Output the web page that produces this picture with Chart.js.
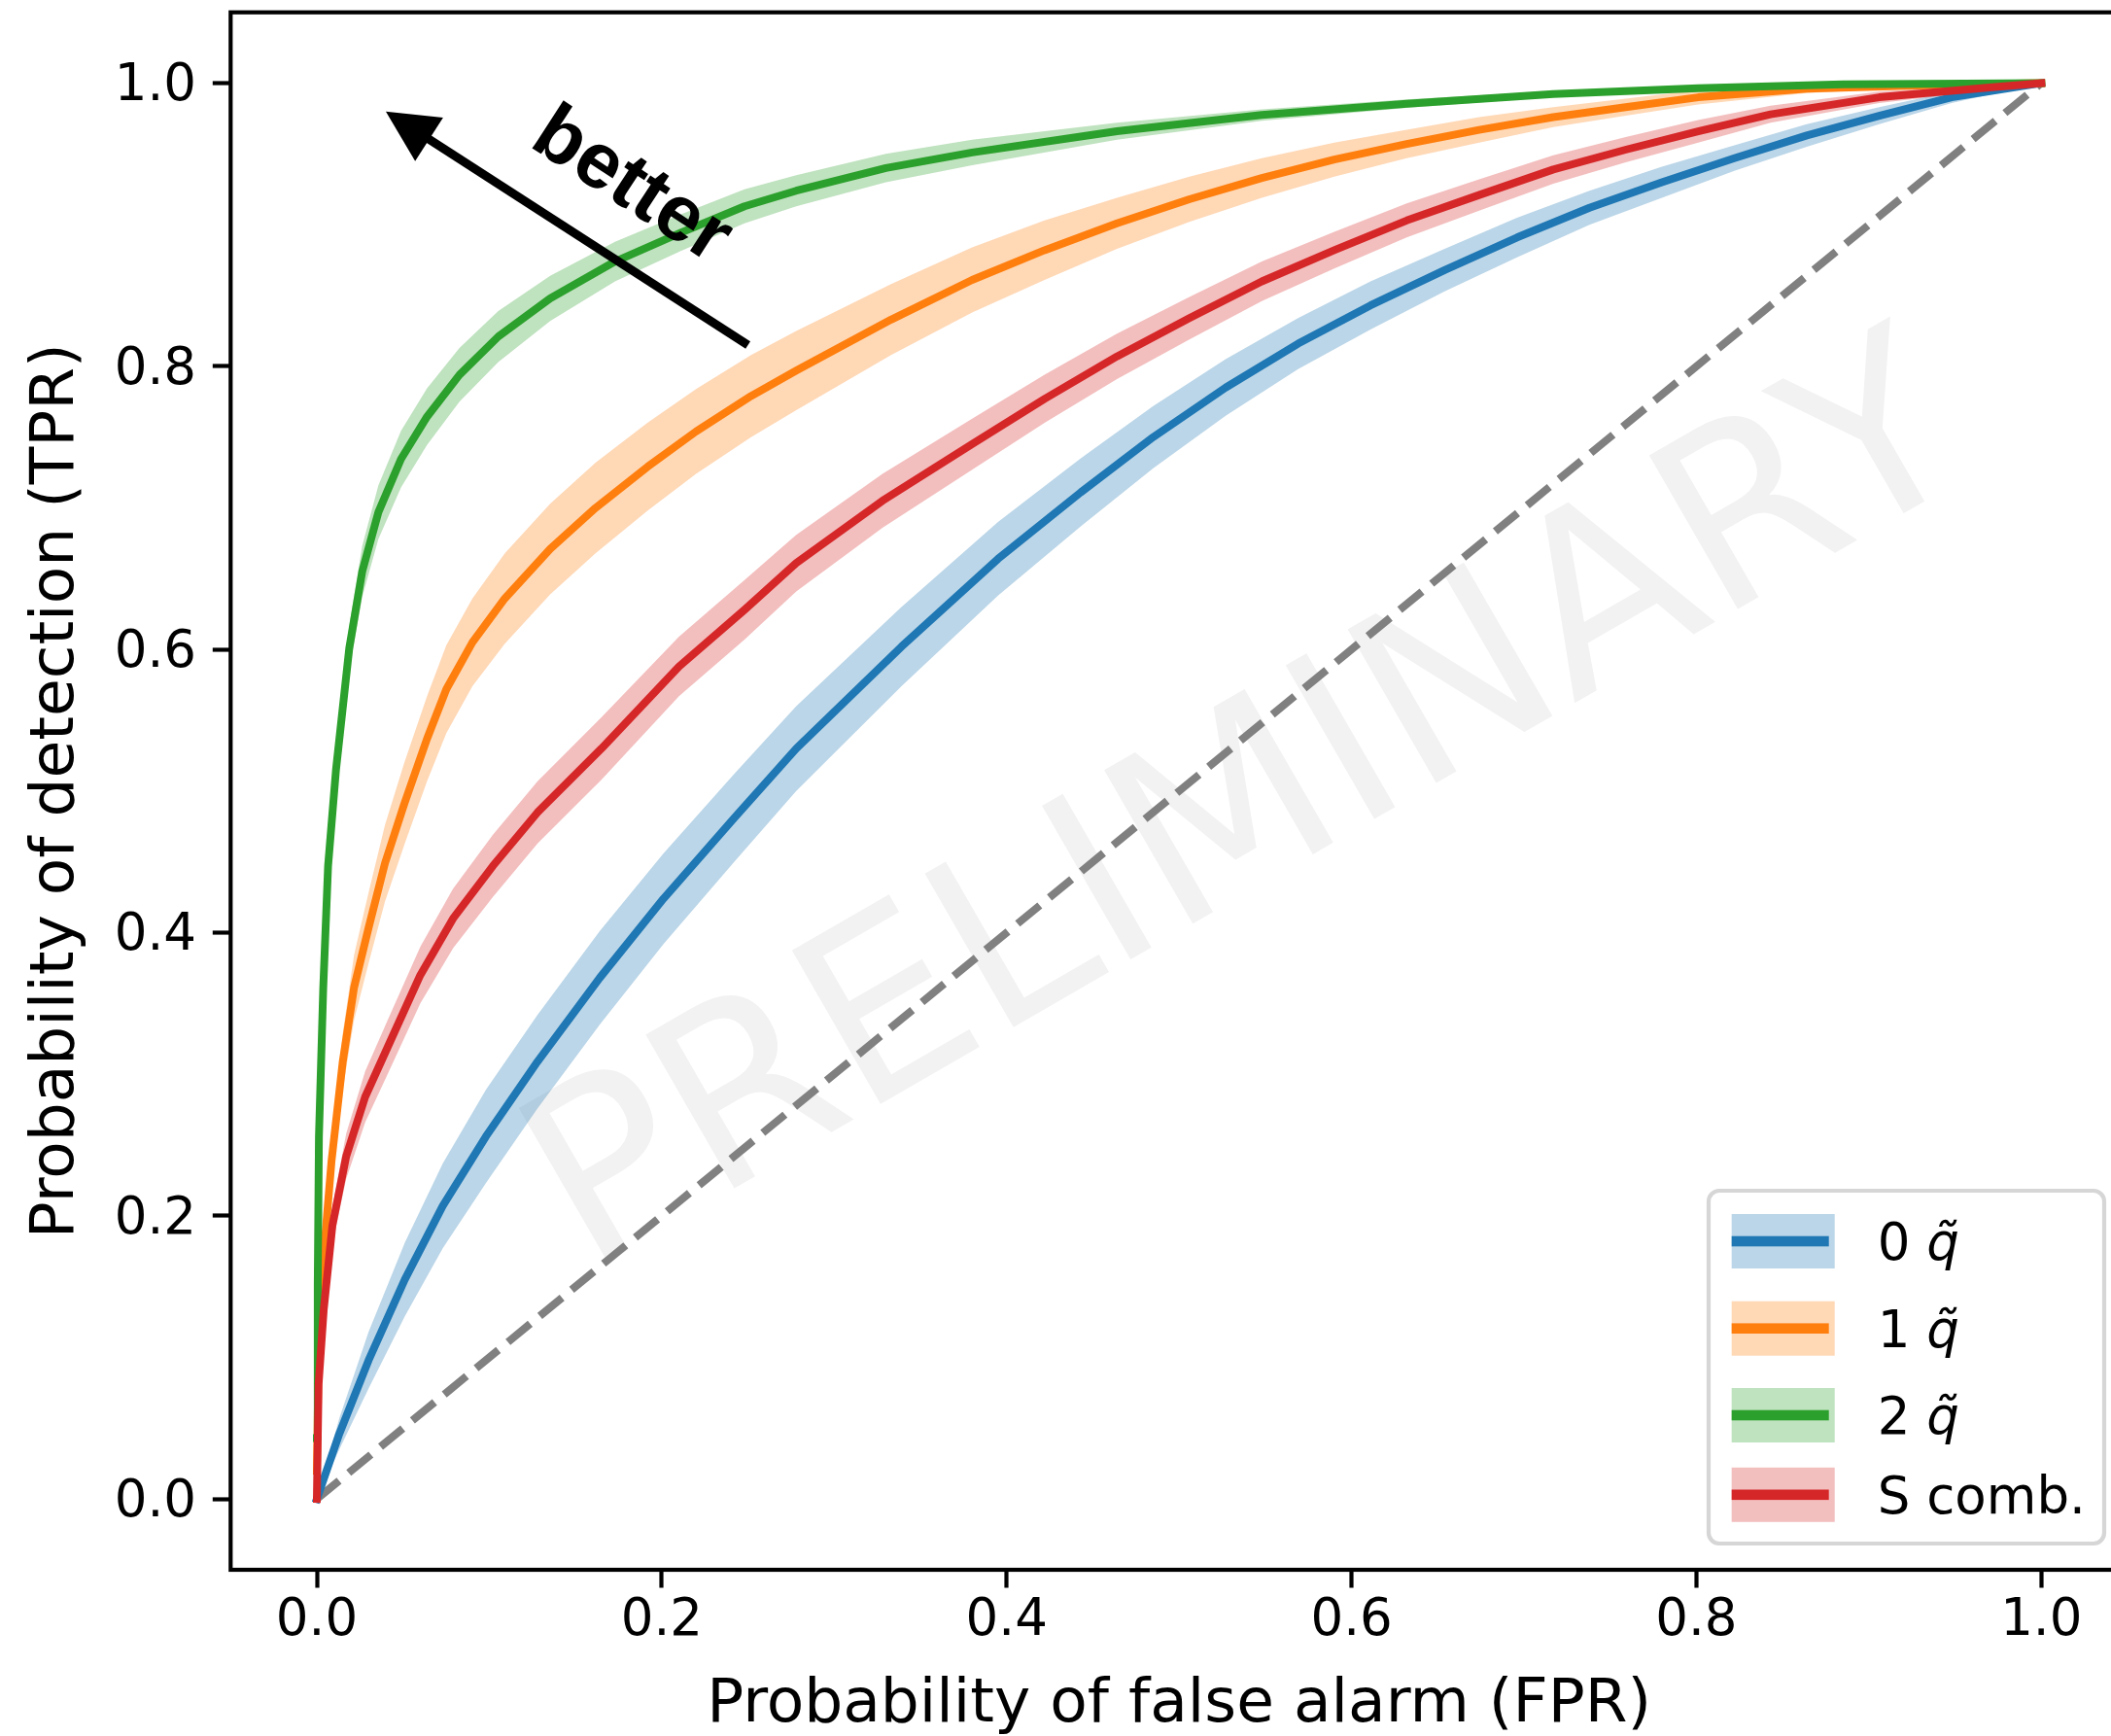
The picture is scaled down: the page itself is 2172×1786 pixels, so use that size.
<!DOCTYPE html>
<html lang="en">
<head>
  <meta charset="UTF-8">
  <title>ROC curves</title>
  <script src="https://cdn.jsdelivr.net/npm/chart.js"></script>
  <style>
    html, body { margin: 0; padding: 0; background: #fff; overflow: hidden; }
    #wrap { width: 2200px; height: 1786px; }
  </style>
</head>
<body>
  <div id="wrap"><canvas id="roc" width="2200" height="1786"></canvas></div>

  <script>
    // ROC points (false alarm rate, detection rate) and the spread around them
    const fpr0 = [0, 0.013, 0.030, 0.051, 0.073, 0.098, 0.128, 0.164, 0.201, 0.242, 0.278, 0.339, 0.395, 0.443, 0.485, 0.527, 0.569, 0.611, 0.654, 0.696, 0.738, 0.780, 0.822, 0.864, 0.906, 0.948, 1.0];
    const tpr0 = [0, 0.046, 0.098, 0.155, 0.207, 0.256, 0.309, 0.368, 0.424, 0.481, 0.530, 0.602, 0.664, 0.711, 0.750, 0.785, 0.816, 0.843, 0.868, 0.891, 0.912, 0.930, 0.947, 0.963, 0.977, 0.990, 1.0];
    const std0 = [0, 0.011, 0.020, 0.026, 0.030, 0.033, 0.033, 0.033, 0.032, 0.031, 0.030, 0.028, 0.026, 0.024, 0.022, 0.020, 0.018, 0.017, 0.015, 0.014, 0.012, 0.011, 0.009, 0.008, 0.006, 0.004, 0];

    const fpr1 = [0, 0.001, 0.0037, 0.0085, 0.015, 0.0216, 0.030, 0.0395, 0.0507, 0.0639, 0.0751, 0.0902, 0.109, 0.1353, 0.1616, 0.1917, 0.2199, 0.2518, 0.278, 0.333, 0.380, 0.422, 0.464, 0.506, 0.548, 0.590, 0.632, 0.674, 0.717, 0.759, 0.801, 0.864, 0.948, 1.0];
    const tpr1 = [0.02, 0.10, 0.1685, 0.2386, 0.3088, 0.3614, 0.4034, 0.449, 0.491, 0.537, 0.572, 0.605, 0.636, 0.671, 0.700, 0.729, 0.754, 0.779, 0.797, 0.833, 0.861, 0.882, 0.901, 0.918, 0.933, 0.946, 0.957, 0.967, 0.976, 0.983, 0.990, 0.996, 0.999, 1.0];
    const std1 = [0, 0.007, 0.012, 0.016, 0.020, 0.023, 0.025, 0.027, 0.029, 0.030, 0.031, 0.031, 0.032, 0.032, 0.032, 0.031, 0.030, 0.029, 0.028, 0.025, 0.023, 0.021, 0.018, 0.016, 0.014, 0.012, 0.010, 0.009, 0.007, 0.006, 0.005, 0.003, 0.001, 0];

    const fpr2 = [0, 0.0005, 0.0012, 0.0037, 0.0065, 0.0111, 0.0188, 0.0263, 0.0357, 0.0488, 0.0639, 0.0827, 0.1052, 0.1353, 0.1729, 0.2104, 0.248, 0.278, 0.330, 0.380, 0.464, 0.548, 0.632, 0.717, 0.801, 0.885, 1.0];
    const tpr2 = [0.043, 0.151, 0.256, 0.361, 0.447, 0.515, 0.601, 0.655, 0.697, 0.7345, 0.7644, 0.794, 0.821, 0.848, 0.874, 0.894, 0.913, 0.924, 0.940, 0.951, 0.966, 0.9775, 0.9855, 0.9923, 0.9964, 0.9992, 1.0];
    const std2 = [0, 0.003, 0.005, 0.008, 0.010, 0.013, 0.016, 0.018, 0.019, 0.020, 0.020, 0.019, 0.018, 0.016, 0.014, 0.013, 0.012, 0.011, 0.010, 0.009, 0.006, 0.004, 0.003, 0.002, 0.001, 0.0005, 0];

    const fpr3 = [0, 0.001, 0.004, 0.009, 0.017, 0.028, 0.041, 0.060, 0.079, 0.102, 0.128, 0.165, 0.210, 0.248, 0.278, 0.328, 0.380, 0.422, 0.464, 0.506, 0.548, 0.590, 0.632, 0.674, 0.717, 0.759, 0.801, 0.843, 0.906, 0.970, 1.0];
    const tpr3 = [0, 0.081, 0.134, 0.193, 0.242, 0.284, 0.319, 0.370, 0.410, 0.447, 0.485, 0.530, 0.588, 0.628, 0.661, 0.705, 0.745, 0.777, 0.807, 0.834, 0.860, 0.882, 0.903, 0.921, 0.939, 0.953, 0.966, 0.978, 0.990, 0.997, 1.0];
    const std3 = [0, 0.005, 0.010, 0.013, 0.016, 0.018, 0.019, 0.020, 0.021, 0.022, 0.022, 0.022, 0.021, 0.021, 0.020, 0.019, 0.018, 0.017, 0.016, 0.015, 0.014, 0.013, 0.012, 0.011, 0.010, 0.009, 0.008, 0.006, 0.004, 0.002, 0];

    const seriesLabels = ['0 q\u0303', '1 q\u0303', '2 q\u0303', 'S comb.'];
    const seriesColors = ['#1f77b4', '#ff7f0e', '#2ca02c', '#d62728'];

    // chance diagonal
    const chanceX = [0, 1];
    const chanceY = [0, 1];

    const xTicks = [0.0, 0.2, 0.4, 0.6, 0.8, 1.0];
    const yTicks = [0.0, 0.2, 0.4, 0.6, 0.8, 1.0];

    const xTitle = 'Probability of false alarm (FPR)';
    const yTitle = 'Probability of detection (TPR)';
    const watermarkText = 'PRELIMINARY';
    const arrowText = 'better';
    const arrowFrom = [0.25, 0.815];
    const arrowTo = [0.04, 0.98];

    const series = [
      { label: seriesLabels[0], color: seriesColors[0], fpr: fpr0, tpr: tpr0, std: std0 },
      { label: seriesLabels[1], color: seriesColors[1], fpr: fpr1, tpr: tpr1, std: std1 },
      { label: seriesLabels[2], color: seriesColors[2], fpr: fpr2, tpr: tpr2, std: std2 },
      { label: seriesLabels[3], color: seriesColors[3], fpr: fpr3, tpr: tpr3, std: std3 }
    ];

    function rgba(hex, a) {
      const n = parseInt(hex.slice(1), 16);
      return `rgba(${(n >> 16) & 255}, ${(n >> 8) & 255}, ${n & 255}, ${a})`;
    }

    const datasets = [];

    // shaded bands: lower edge, then upper edge filled down to it
    series.forEach((s, i) => {
      datasets.push({
        isBand: true,
        data: s.fpr.map((x, k) => ({ x: x, y: s.tpr[k] - s.std[k] })),
        borderColor: 'rgba(0,0,0,0)', borderWidth: 0, pointRadius: 0,
        fill: false, order: 20 - 2 * i
      });
      datasets.push({
        isBand: true,
        data: s.fpr.map((x, k) => ({ x: x, y: s.tpr[k] + s.std[k] })),
        borderColor: 'rgba(0,0,0,0)', borderWidth: 0, pointRadius: 0,
        fill: '-1', backgroundColor: rgba(s.color, 0.3), order: 19 - 2 * i
      });
    });

    datasets.push({
      data: chanceX.map((x, k) => ({ x: x, y: chanceY[k] })),
      borderColor: '#808080', borderWidth: 8, borderDash: [29.6, 12.8],
      borderCapStyle: 'butt', pointRadius: 0, fill: false, order: 10
    });

    // main curves, last one ends up on top
    series.forEach((s, i) => {
      datasets.push({
        label: s.label,
        data: s.fpr.map((x, k) => ({ x: x, y: s.tpr[k] })),
        borderColor: s.color, borderWidth: 8,
        borderCapStyle: 'square', borderJoinStyle: 'round',
        pointRadius: 0, fill: false, order: series.length - 1 - i
      });
    });

    const rocDecor = {
      id: 'rocDecor',
      beforeDraw(chart) {
        const ctx = chart.ctx;
        const area = chart.chartArea;
        const sx = chart.scales.x, sy = chart.scales.y;
        ctx.save();
        ctx.fillStyle = '#fff';
        ctx.fillRect(0, 0, chart.width, chart.height);
        // watermark
        ctx.beginPath();
        ctx.rect(area.left, area.top, area.right - area.left, area.bottom - area.top);
        ctx.clip();
        ctx.translate(sx.getPixelForValue(0.56), sy.getPixelForValue(0.443));
        ctx.rotate(-30 * Math.PI / 180);
        ctx.font = '250px "DejaVu Sans"';
        ctx.fillStyle = '#f2f2f2';
        ctx.textAlign = 'center';
        ctx.textBaseline = 'alphabetic';
        ctx.fillText(watermarkText, 0, 0);
        ctx.restore();
      },
      afterDatasetsDraw(chart) {
        const ctx = chart.ctx;
        const area = chart.chartArea;
        const sx = chart.scales.x, sy = chart.scales.y;

        // arrow
        const x0 = sx.getPixelForValue(arrowFrom[0]), y0 = sy.getPixelForValue(arrowFrom[1]);
        const x1 = sx.getPixelForValue(arrowTo[0]), y1 = sy.getPixelForValue(arrowTo[1]);
        const len = Math.hypot(x1 - x0, y1 - y0);
        const ux = (x1 - x0) / len, uy = (y1 - y0) / len;
        const headLen = 53, headHalf = 26.5;
        const bx = x1 - ux * headLen, by = y1 - uy * headLen;
        ctx.save();
        ctx.strokeStyle = '#000';
        ctx.fillStyle = '#000';
        ctx.lineWidth = 9;
        ctx.lineCap = 'butt';
        ctx.beginPath();
        ctx.moveTo(x0, y0);
        ctx.lineTo(bx + ux * 2, by + uy * 2);
        ctx.stroke();
        ctx.beginPath();
        ctx.moveTo(x1, y1);
        ctx.lineTo(bx - uy * headHalf, by + ux * headHalf);
        ctx.lineTo(bx + uy * headHalf, by - ux * headHalf);
        ctx.closePath();
        ctx.fill();

        // label next to the arrow
        ctx.translate(sx.getPixelForValue(0.1755), sy.getPixelForValue(0.914));
        ctx.rotate(33 * Math.PI / 180);
        ctx.font = 'bold 81px "Liberation Sans"';
        ctx.textAlign = 'center';
        ctx.textBaseline = 'alphabetic';
        ctx.fillText(arrowText, 0, 0);
        ctx.restore();

        // axes frame
        ctx.save();
        ctx.strokeStyle = '#000';
        ctx.lineWidth = 4.2;
        ctx.strokeRect(area.left, area.top, area.right - area.left, area.bottom - area.top);
        ctx.restore();
      },
      afterDraw(chart) {
        const ctx = chart.ctx;
        const area = chart.chartArea;
        const lines = chart.data.datasets.filter(d => d.label);
        const frameW = 407, frameH = 363;
        const fx = area.right - 24 - frameW, fy = area.bottom - 27 - frameH;
        const rowCenters = [52, 141.7, 231, 312.8];

        ctx.save();
        ctx.beginPath();
        ctx.roundRect(fx, fy, frameW, frameH, 11);
        ctx.fillStyle = 'rgba(255,255,255,0.8)';
        ctx.fill();
        ctx.lineWidth = 4.2;
        ctx.strokeStyle = '#d6d6d6';
        ctx.stroke();

        lines.forEach((d, i) => {
          const cy = fy + rowCenters[i];
          const px = fx + 23.7;
          ctx.fillStyle = rgba(d.borderColor, 0.3);
          ctx.fillRect(px, cy - 28, 106, 56);
          ctx.fillStyle = d.borderColor;
          ctx.fillRect(px, cy - 5.3, 100, 10.6);

          // text: number part upright, q̃ in italic
          const tx = fx + 173.7;
          const base = cy + 19.3;
          ctx.fillStyle = '#000';
          ctx.textAlign = 'left';
          ctx.textBaseline = 'alphabetic';
          const m = d.label.match(/^(\S+) (q\u0303)$/);
          if (m) {
            ctx.font = '53px "DejaVu Sans"';
            ctx.fillText(m[1] + ' ', tx, base);
            const w = ctx.measureText(m[1] + ' ').width;
            ctx.font = 'italic 53px "DejaVu Sans"';
            ctx.fillText(m[2], tx + w, base);
          } else {
            ctx.font = '53px "DejaVu Sans"';
            ctx.fillText(d.label, tx, base);
          }
        });
        ctx.restore();
      }
    };

    const tickFont = { family: 'DejaVu Sans', size: 53 };
    const titleFont = { family: 'DejaVu Sans', size: 63, lineHeight: 1 };

    new Chart(document.getElementById('roc'), {
      type: 'line',
      data: { datasets: datasets },
      options: {
        responsive: false,
        animation: false,
        devicePixelRatio: 1,
        layout: { autoPadding: false, padding: { top: 12.7, right: 11, left: 0, bottom: 0 } },
        elements: { line: { tension: 0 } },
        plugins: {
          legend: { display: false },
          tooltip: { enabled: false },
          filler: { drawTime: 'beforeDatasetsDraw' }
        },
        scales: {
          x: {
            type: 'linear', min: -0.05, max: 1.05,
            afterBuildTicks: s => { s.ticks = xTicks.map(v => ({ value: v })); },
            afterFit: s => { s.height = 171; s.paddingLeft = 0; s.paddingRight = 0; },
            border: { display: false },
            grid: { drawOnChartArea: false, drawTicks: true, tickLength: 18.5, tickWidth: 4.2, tickColor: '#000' },
            ticks: { color: '#000', font: tickFont, padding: 3, maxRotation: 0, callback: v => v.toFixed(1) },
            title: { display: true, text: xTitle, color: '#000', font: titleFont, padding: { top: 0, bottom: 0 } }
          },
          y: {
            type: 'linear', min: -0.05, max: 1.05,
            afterBuildTicks: s => { s.ticks = yTicks.map(v => ({ value: v })); },
            afterFit: s => { s.width = 237.3; s.paddingTop = 0; s.paddingBottom = 0; },
            border: { display: false },
            grid: { drawOnChartArea: false, drawTicks: true, tickLength: 18.5, tickWidth: 4.2, tickColor: '#000' },
            ticks: { color: '#000', font: tickFont, padding: 16.8, labelOffset: 4, callback: v => v.toFixed(1) },
            title: { display: true, text: yTitle, color: '#000', font: titleFont, padding: { top: 27, bottom: 0 } }
          }
        }
      },
      plugins: [rocDecor]
    });
  </script>
</body>
</html>
